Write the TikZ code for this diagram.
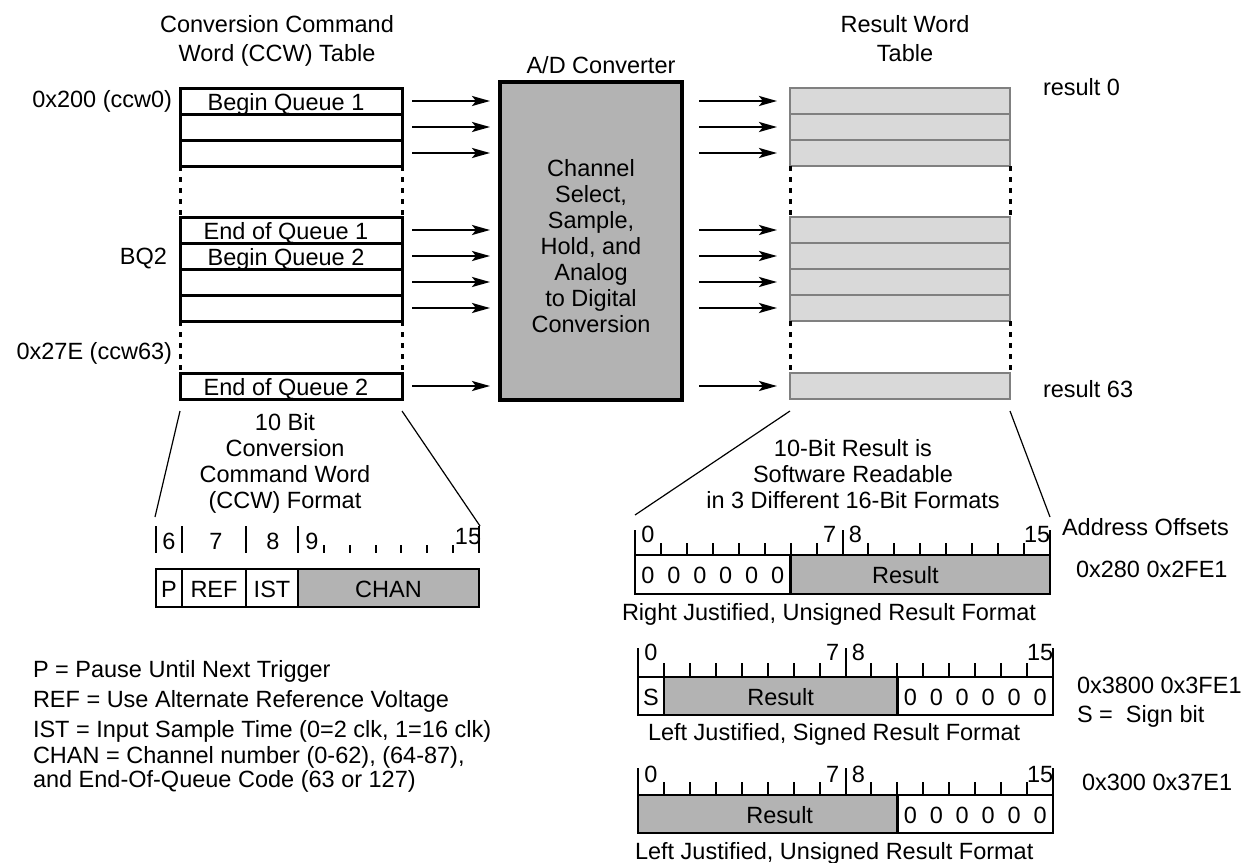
\documentclass[tikz,border=0pt]{standalone}
\usepackage{fontspec}
\setmainfont{Liberation Sans}
\usetikzlibrary{arrows.meta}
\definecolor{midgray}{HTML}{B3B3B3}
\definecolor{lightfill}{HTML}{D9D9D9}
\definecolor{rowline}{HTML}{808080}
\newcommand\sixzeros{0\kern12.87pt0\kern12.87pt0\kern12.87pt0\kern12.87pt0\kern12.87pt0}
\begin{document}
\begin{tikzpicture}[x=1pt,y=-1pt,
 every node/.style={font=\fontsize{23.5}{26}\selectfont, inner sep=0pt, outer sep=0pt},
 lrow/.style={draw=black, line width=3pt, minimum width=222pt, minimum height=26pt, anchor=north west, text height=20pt, text depth=2pt},
 rrow/.style={draw=rowline, fill=lightfill, line width=2.5pt, minimum width=220pt, minimum height=26pt, anchor=north west},
 dots/.style={line width=3pt, dash pattern=on 5pt off 6pt},
 arr/.style={line width=2.5pt, -{Stealth[length=18pt,width=10pt,inset=4pt]}},
 thinline/.style={line width=1.2pt},
 cell/.style={draw=black, line width=2.5pt, anchor=north west, text height=20pt, text depth=2pt},
 gcell/.style={cell, fill=midgray},
 tick/.style={line width=2pt},
 lbl/.style={anchor=base west},
 cbl/.style={anchor=base},
]
\useasboundingbox (0,0) rectangle (1247,862);

% titles (anchor = baseline of last line)
\node[cbl, align=center, font=\fontsize{23.5}{28.5}\selectfont] (t1) at (277,61) {Conversion Command\\Word (CCW) Table};
\node[cbl, align=center, font=\fontsize{23.5}{28.5}\selectfont] (t2) at (905,61) {Result Word\\Table};
\node[cbl] (t3) at (601,73) {A/D Converter};

% left CCW table
\node[lrow] (l1) at (180,88) {Begin Queue 1\kern10pt};
\node[lrow] (l2) at (180,114) {};
\node[lrow] (l3) at (180,140) {};
\node[lrow] (l4) at (180,217) {End of Queue 1\kern10pt};
\node[lrow] (l5) at (180,243) {Begin Queue 2\kern10pt};
\node[lrow] (l6) at (180,269) {};
\node[lrow] (l7) at (180,295) {};
\node[lrow] (l8) at (180,373) {End of Queue 2\kern10pt};
\draw[dots] (l3.south west) -- (l4.north west);
\draw[dots] (l3.south east) -- (l4.north east);
\draw[dots] (l7.south west) -- (l8.north west);
\draw[dots] (l7.south east) -- (l8.north east);

\node[anchor=base east] (a0) at (172,107) {0x200 (ccw0)};
\node[anchor=base east] (bq) at (167,264) {BQ2};
\node[anchor=base east] (a63) at (172,359) {0x27E (ccw63)};

% A/D converter
\node[draw=black, line width=3.5pt, fill=midgray, minimum width=182pt, minimum height=318pt, anchor=north west] (ad) at (500,82) {};
\node[cbl, align=center] (adtxt) at (591,332) {Channel\\Select,\\Sample,\\Hold, and\\Analog\\to Digital\\Conversion};

% right result table
\node[rrow] (r1) at (790,88) {};
\node[rrow] (r2) at (790,114) {};
\node[rrow] (r3) at (790,140) {};
\node[rrow] (r4) at (790,217) {};
\node[rrow] (r5) at (790,243) {};
\node[rrow] (r6) at (790,269) {};
\node[rrow] (r7) at (790,295) {};
\node[rrow] (r8) at (790,373) {};
\draw[dots] (r3.south west) -- (r4.north west);
\draw[dots] (r3.south east) -- (r4.north east);
\draw[dots] (r7.south west) -- (r8.north west);
\draw[dots] (r7.south east) -- (r8.north east);

\node[lbl] (res0) at (1043,95) {result 0};
\node[lbl] (res63) at (1043,397) {result 63};

% arrows
\foreach \i in {1,...,8} {
  \draw[arr, shorten <=10pt, shorten >=10pt] (l\i.east) -- (ad.west |- l\i.east);
  \draw[arr, shorten <=17pt, shorten >=13pt] (ad.east |- r\i.west) -- (r\i.west);
}

% expansion lines
\coordinate (lp1) at (155,517);
\coordinate (lp2) at (480,526);
\coordinate (rp1) at (635,515);
\coordinate (rp2) at (1050,517);
\draw[thinline] ([yshift=-12pt]l8.south west) -- (lp1);
\draw[thinline] ([yshift=-12pt]l8.south east) -- (lp2);
\draw[thinline] ([yshift=-12pt]r8.south west) -- (rp1);
\draw[thinline] ([yshift=-12pt]r8.south east) -- (rp2);

% CCW format
\node[cbl, align=center, font=\fontsize{23.5}{25.7}\selectfont] (ccwcap) at (285,508) {10 Bit\\Conversion\\Command Word\\(CCW) Format};
\foreach \xx in {156,182,246,298,479} \draw[tick] (\xx,526) -- (\xx,553);
\foreach \k in {1,...,6} \draw[tick] (298+\k*25.857,545) -- (298+\k*25.857,553);
\node[cbl] (b6) at (169,549) {6};
\node[cbl] (b7) at (216,549) {7};
\node[cbl] (b8) at (273,549) {8};
\node[cbl] (b9) at (312,549) {9};
\node[cbl] (b15) at (468,544) {15};
\node[cell, minimum width=26pt, minimum height=38pt] (cP) at (156,569) {P};
\node[cell, minimum width=64pt, minimum height=38pt] (cREF) at (182,569) {REF};
\node[cell, minimum width=52pt, minimum height=38pt] (cIST) at (246,569) {IST};
\node[gcell, minimum width=181pt, minimum height=38pt] (cCHAN) at (298,569) {CHAN};

% legend
\node[lbl] (lg1) at (33,677) {P = Pause Until Next Trigger};
\node[lbl] (lg2) at (33,707) {REF = Use Alternate Reference Voltage};
\node[lbl] (lg3) at (33,737) {IST = Input Sample Time (0=2 clk, 1=16 clk)};
\node[lbl] (lg4) at (33,763) {CHAN = Channel number (0-62), (64-87),};
\node[lbl] (lg5) at (33,787) {and End-Of-Queue Code (63 or 127)};

% result formats
\node[cbl, align=center] (rescap) at (853,508) {10-Bit Result is\\Software Readable\\in 3 Different 16-Bit Formats};

\foreach \x/\t/\tt/\st/\lb [count=\n] in {635/555/530/543/542, 638/677/648/663/660, 638/795/768/782/782} {
  \foreach \k in {0,8,16} \draw[tick] (\x+\k*25.94,\tt) -- (\x+\k*25.94,\t);
  \foreach \k in {1,...,7} \draw[tick] (\x+\k*25.94,\st) -- (\x+\k*25.94,\t);
  \foreach \k in {9,...,15} \draw[tick] (\x+\k*25.94,\st) -- (\x+\k*25.94,\t);
  \node[cbl] (f\n b0) at (\x+0.5*25.94,\lb) {0};
  \node[cbl] (f\n b7) at (\x+7.5*25.94,\lb) {7};
  \node[cbl] (f\n b8) at (\x+8.5*25.94,\lb) {8};
  \node[cbl] (f\n b15) at (\x+15.5*25.94,\lb) {15};
}

\node[cell, minimum width=155.64pt, minimum height=39pt] (f1z) at (635,555) {\sixzeros};
\node[gcell, minimum width=259.4pt, minimum height=39pt] (f1r) at (790.64,555) {Result\kern30pt};
\node[cell, minimum width=25.94pt, minimum height=38pt] (f2s) at (638,677) {S};
\node[gcell, minimum width=233.46pt, minimum height=38pt] (f2r) at (663.94,677) {Result};
\node[cell, minimum width=155.64pt, minimum height=38pt] (f2z) at (897.4,677) {\sixzeros};
\node[gcell, minimum width=259.4pt, minimum height=38pt] (f3r) at (638,795) {\kern24pt Result};
\node[cell, minimum width=155.64pt, minimum height=38pt] (f3z) at (897.4,795) {\sixzeros};

\node[lbl] (cap1) at (622,620) {Right Justified, Unsigned Result Format};
\node[lbl] (cap2) at (648,740) {Left Justified, Signed Result Format};
\node[lbl] (cap3) at (635,859) {Left Justified, Unsigned Result Format};

\node[lbl] (ao) at (1062,535) {Address Offsets};
\node[lbl] (ad1) at (1076,577) {0x280 0x2FE1};
\node[lbl] (ad2) at (1077,693) {0x3800 0x3FE1};
\node[lbl] (sgn) at (1077,722) {S =\ \ Sign bit};
\node[lbl] (ad3) at (1082,790) {0x300 0x37E1};
\end{tikzpicture}
\end{document}
